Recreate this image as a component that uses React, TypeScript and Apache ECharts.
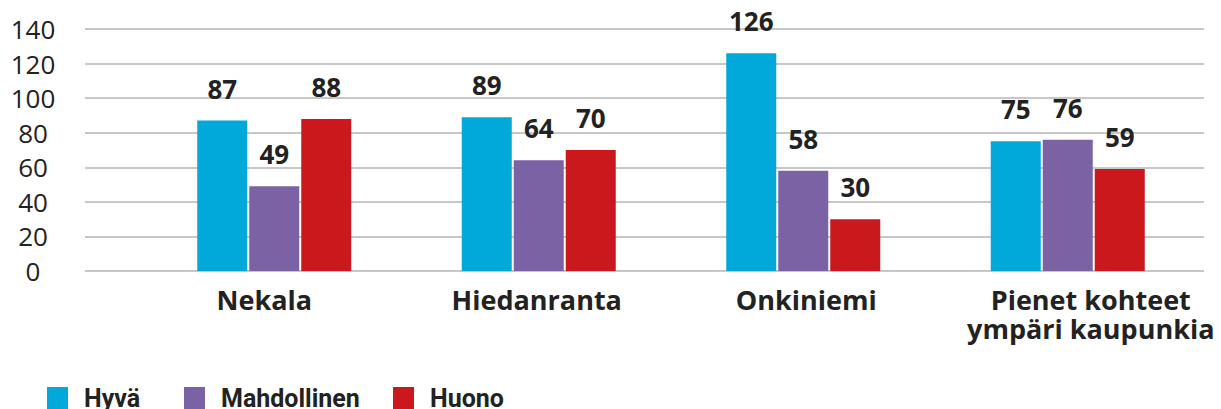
import React, { useEffect, useRef } from "react";
import * as echarts from "echarts";

const categories = ["Nekala", "Hiedanranta", "Onkiniemi", "Pienet kohteet\nympäri kaupunkia"];
const seriesNames = ["Hyvä", "Mahdollinen", "Huono"];
const hyva = [87, 89, 126, 75];
const mahdollinen = [49, 64, 58, 76];
const huono = [88, 70, 30, 59];
const colors = ["#00A9D9", "#7A62A5", "#CA181D"];
const yMin = 0;
const yMax = 140;
const yInterval = 20;

export default function App() {
  const ref = useRef<HTMLDivElement>(null);
  useEffect(() => {
    if (!ref.current) return;
    const chart = echarts.init(ref.current, null, { renderer: "svg" });
    const font = "'Open Sans', 'Noto Sans', sans-serif";
    const labelStyle = {
      show: true,
      position: "top" as const,
      distance: 19,
      fontFamily: font,
      fontSize: 26,
      fontWeight: "bold" as const,
      color: "#222",
    };
    const mk = (name: string, data: number[], color: string) => ({
      name,
      type: "bar" as const,
      xAxisIndex: 1,
      yAxisIndex: 1,
      data,
      barWidth: 50,
      barGap: "4%",
      itemStyle: { color },
      label: labelStyle,
    });
    // horizontal nudges of category labels as in the reference
    const catPadding = [
      [0, 20, 0, 0],
      [0, 4, 0, 0],
      [0, 0, 0, 6],
      [0, 0, 0, 46],
    ];
    const legendWidths = [100, 172, 80];
    const legendFont = "Roboto, 'Open Sans', sans-serif";
    const rich: Record<string, any> = {
      s: { width: 11, fontSize: 25, lineHeight: 24 },
    };
    legendWidths.forEach((w, i) => {
      rich["t" + i] = {
        width: w,
        fontFamily: legendFont,
        fontSize: 25,
        fontWeight: "bold",
        color: "#222",
        lineHeight: 24,
      };
    });
    chart.setOption({
      animation: false,
      backgroundColor: "#fff",
      grid: [
        { left: 85, right: 17, top: 29, bottom: 138 },
        { left: 142, right: 21, top: 29, bottom: 138 },
      ],
      xAxis: [
        { gridIndex: 0, type: "value", show: false, min: 0, max: 1 },
        {
          gridIndex: 1,
          type: "category",
          data: categories.map((c, i) => ({
            value: c,
            textStyle: { padding: catPadding[i] },
          })),
          axisLine: { show: false },
          axisTick: { show: false },
          axisLabel: {
            interval: 0,
            margin: 14,
            fontFamily: font,
            fontSize: 27,
            fontWeight: "bold",
            color: "#222",
            lineHeight: 29,
          },
        },
      ],
      yAxis: [
        {
          gridIndex: 0,
          type: "value",
          min: yMin,
          max: yMax,
          interval: yInterval,
          axisLine: { show: false },
          axisTick: { show: false },
          splitLine: { show: true, lineStyle: { color: "#b5b5b5", width: 1.5 } },
          axisLabel: {
            align: "center",
            margin: 52,
            fontFamily: font,
            fontSize: 26,
            color: "#222",
          },
        },
        {
          gridIndex: 1,
          type: "value",
          min: yMin,
          max: yMax,
          interval: yInterval,
          show: false,
          splitLine: { show: false },
        },
      ],
      legend: {
        left: 47,
        top: 386,
        padding: 0,
        itemWidth: 21,
        itemHeight: 23,
        itemGap: 0,
        icon: "rect",
        data: seriesNames,
        formatter: (name: string) => `{s| }{t${seriesNames.indexOf(name)}|${name}}`,
        textStyle: {
          fontFamily: legendFont,
          fontSize: 25,
          fontWeight: "bold",
          color: "#222",
          lineHeight: 24,
          rich,
        },
      },
      series: [
        mk(seriesNames[0], hyva, colors[0]),
        mk(seriesNames[1], mahdollinen, colors[1]),
        mk(seriesNames[2], huono, colors[2]),
      ],
    });
    return () => chart.dispose();
  }, []);
  return (
    <div
      ref={ref}
      style={{ position: "fixed", left: 0, top: 0, width: 1221, height: 409 }}
    />
  );
}
